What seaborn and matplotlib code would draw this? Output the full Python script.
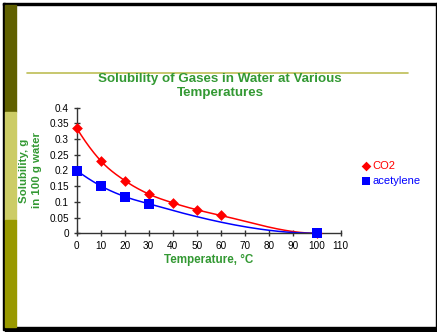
import numpy as np
import pandas as pd
import matplotlib
matplotlib.use("Agg")
import matplotlib.pyplot as plt
from matplotlib.patches import Rectangle
from matplotlib.lines import Line2D
import seaborn as sns

# ---- data ----
co2_temp = [0, 10, 20, 30, 40, 50, 60, 100]
co2_sol = [0.335, 0.231, 0.168, 0.125, 0.097, 0.075, 0.057, 0.0]
ace_temp = [0, 10, 20, 30, 100]
ace_sol = [0.200, 0.151, 0.117, 0.094, 0.0]
x_ticks = [0, 10, 20, 30, 40, 50, 60, 70, 80, 90, 100, 110]
y_ticks = [0, 0.05, 0.1, 0.15, 0.2, 0.25, 0.3, 0.35, 0.4]
y_tick_labels = ["0", "0.05", "0.1", "0.15", "0.2", "0.25", "0.3", "0.35", "0.4"]

sns.set_theme(style="white")
plt.rcParams['font.family'] = ['Liberation Sans', 'DejaVu Sans']

GREEN = "#339933"
RED = "#ff0000"
BLUE = "#0000ff"

W, H = 437, 332
fig = plt.figure(figsize=(W / 100, H / 100), dpi=100)
fig.patch.set_facecolor("white")

def fx(px):
    return px / W

def fy(py):
    return 1 - py / H

# slide decorations
fig.patches.append(Rectangle((fx(3), fy(330)), fx(2), fy(3) - fy(330), transform=fig.transFigure, color="black", zorder=0))
fig.patches.append(Rectangle((fx(3), fy(5)), fx(434), fy(3) - fy(5), transform=fig.transFigure, color="black", zorder=0))
fig.patches.append(Rectangle((fx(5), fy(332)), fx(432), fy(327) - fy(332), transform=fig.transFigure, color="black", zorder=0))
fig.patches.append(Rectangle((fx(436), fy(332)), fx(1), fy(3) - fy(332), transform=fig.transFigure, color="black", zorder=0))
fig.patches.append(Rectangle((fx(5), fy(112)), fx(11), fy(5) - fy(112), transform=fig.transFigure, color="#606000", zorder=0))
fig.patches.append(Rectangle((fx(5), fy(220)), fx(11), fy(112) - fy(220), transform=fig.transFigure, color="#cccc66", zorder=0))
fig.patches.append(Rectangle((fx(5), fy(327)), fx(11), fy(220) - fy(327), transform=fig.transFigure, color="#999900", zorder=0))
fig.lines.append(Line2D([fx(27), fx(408)], [fy(72.5), fy(72.5)], transform=fig.transFigure, color="#bdbd55", lw=1.2))

ax_l, ax_r, ax_b, ax_t = 76.7, 340.7, 233.3, 107.7
ax = fig.add_axes([fx(ax_l), fy(ax_b), fx(ax_r - ax_l), fy(ax_t) - fy(ax_b)])
ax.set_facecolor("none")

XMAX, YMAX = 110, 0.4


def smooth(xs, ys, n=40):
    # piecewise cubic Hermite smoothing (Excel-like smoothed line)
    x = np.asarray(xs, float)
    y = np.asarray(ys, float)
    h = np.diff(x)
    d = np.diff(y) / h
    m = np.zeros_like(y)
    for i in range(1, len(x) - 1):
        m[i] = (h[i] * d[i - 1] + h[i - 1] * d[i]) / (h[i - 1] + h[i])
    m[0] = ((2 * h[0] + h[1]) * d[0] - h[0] * d[1]) / (h[0] + h[1])
    m[-1] = 0.0
    ox, oy = [], []
    t = np.linspace(0, 1, n)
    for i in range(len(x) - 1):
        h00 = 2 * t ** 3 - 3 * t ** 2 + 1
        h10 = t ** 3 - 2 * t ** 2 + t
        h01 = -2 * t ** 3 + 3 * t ** 2
        h11 = t ** 3 - t ** 2
        seg_y = h00 * y[i] + h10 * h[i] * m[i] + h01 * y[i + 1] + h11 * h[i] * m[i + 1]
        seg_x = x[i] + t * h[i]
        if i > 0:
            seg_x, seg_y = seg_x[1:], seg_y[1:]
        ox.append(seg_x)
        oy.append(seg_y)
    return np.concatenate(ox), np.concatenate(oy)

cx, cy = smooth(co2_temp, co2_sol)
axx, axy = smooth(ace_temp, ace_sol)

sns.lineplot(x=cx, y=cy, sort=False, color=RED, lw=1.1, ax=ax, legend=False)
sns.lineplot(x=axx, y=axy, sort=False, color=BLUE, lw=1.1, ax=ax, legend=False)
sns.scatterplot(x=co2_temp, y=co2_sol, marker="D", s=30, color=RED, edgecolor=RED, linewidth=0, ax=ax, label="CO2", zorder=5, clip_on=False)
sns.scatterplot(x=ace_temp, y=ace_sol, marker="s", s=42, color=BLUE, edgecolor=BLUE, linewidth=0, ax=ax, label="acetylene", zorder=5, clip_on=False)

ax.set_xlim(0, XMAX)
ax.set_ylim(0, YMAX)
ax.set_xticks(x_ticks)
ax.set_xticklabels([str(v) for v in x_ticks])
ax.set_yticks(y_ticks)
ax.set_yticklabels(y_tick_labels)
for s in ["top", "right"]:
    ax.spines[s].set_visible(False)
for s in ["left", "bottom"]:
    ax.spines[s].set_color("#333333")
    ax.spines[s].set_linewidth(1.0)
ax.tick_params(axis="both", direction="inout", length=5, width=1.0, color="#333333",
               labelsize=7.2, labelcolor="black", pad=3, bottom=True, left=True)
ax.grid(False)

ax.set_xlabel("Temperature, °C", color=GREEN, fontsize=8.4, fontweight="bold", labelpad=2)
ax.set_ylabel("Solubility, g\nin 100 g water", color=GREEN, fontsize=8.2, fontweight="bold",
              linespacing=1.45, labelpad=5)

fig.text(fx(220), fy(86), "Solubility of Gases in Water at Various\nTemperatures", ha="center", va="center",
         color=GREEN, fontsize=9.6, fontweight="bold", linespacing=1.3)

handles, labels = ax.get_legend_handles_labels()
leg = ax.legend(handles, labels, loc="upper left", bbox_to_anchor=(fx(359), fy(161)),
                bbox_transform=fig.transFigure, frameon=False, fontsize=8,
                labelcolor=[RED, BLUE], handletextpad=0.0, labelspacing=0.45,
                borderaxespad=0, borderpad=0, handlelength=1.2, markerscale=0.9)

fig.savefig("out.png", dpi=100, facecolor="white")
